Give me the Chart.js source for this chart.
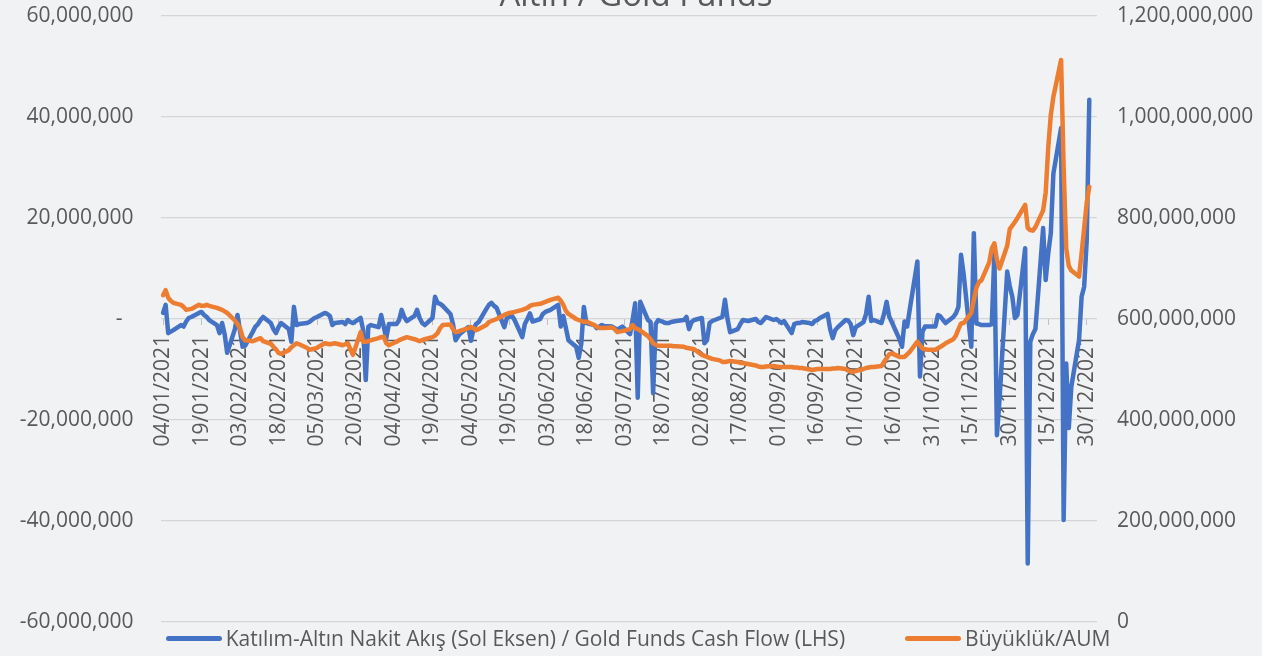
<!DOCTYPE html>
<html lang="tr">
<head>
<meta charset="utf-8">
<title>Altın / Gold Funds</title>
<script src="https://cdn.jsdelivr.net/npm/chart.js@4.4.1/dist/chart.umd.min.js"></script>
<style>
  html, body {
    margin: 0;
    padding: 0;
    background: #f1f2f4;
    overflow: hidden;
  }
  #chartContainer {
    position: relative;
    width: 1262px;
    height: 656px;
  }
  #chartCanvas {
    position: absolute;
    left: 0;
    top: 0;
  }
  #customLegend {
    position: absolute;
    left: 0;
    top: 625px;
    width: 1262px;
    padding-left: 14px;
    box-sizing: border-box;
    display: flex;
    justify-content: center;
    gap: 60px;
    font-family: "Open Sans", sans-serif;
    font-size: 21px;
    line-height: 26px;
    color: #595959;
  }
  .legend-item {
    display: flex;
    align-items: center;
    white-space: nowrap;
  }
  .legend-line {
    width: 56px;
    height: 5px;
    border-radius: 3px;
    margin-right: 4px;
  }
</style>
</head>
<body>
<div id="chartContainer">
  <canvas id="chartCanvas" width="1262" height="656"></canvas>
  <div id="customLegend"></div>
</div>
<script>
const chartTitle = 'Altın / Gold Funds';
const cashLabel = 'Katılım-Altın Nakit Akış (Sol Eksen) / Gold Funds Cash Flow (LHS)';
const aumLabel = 'Büyüklük/AUM';

// date axis: every calendar day from 03/01/2021 to 03/01/2022, a label every 15 days from 04/01/2021
const axisStart = [2021, 0, 3];
const axisDayCount = 366;
const tickEvery = 15;
const firstTickIndex = 1;

// left axis (TL), right axis (TL)
const leftTicks = { min: -60000000, max: 60000000, step: 20000000 };
const rightTicks = { min: 0, max: 1200000000, step: 200000000 };

// Gold funds cash flow, million TL, one value per weekday (Mon..Fri) from 04/01/2021
const cashFlow = [
  1.2, 2.8, -2.8, -2.5, -2.2,      // 04/01
  -1.2, -1.5, -0.5, 0.2, 0.4,      // 11/01
  1.2, 1.4, 0.8, 0.4, -0.2,        // 18/01
  -1.2, -2.8, -0.8, -3.0, -6.7,    // 25/01
  -2.0, 0.8, -2.4, -5.5, -5.3,     // 01/02
  -2.5, -1.5, -1.0, -0.2, 0.4,     // 08/02
  -0.8, -2.0, -2.8, -1.6, -0.8,    // 15/02
  -2.0, -4.5, 2.4, -1.2, -1.0,     // 22/02
  -0.8, -0.6, -0.2, 0.2, 0.4,      // 01/03
  1.2, 1.0, 0.6, -1.2, -0.8,       // 08/03
  -0.6, -1.0, -0.2, -0.6, -0.8,    // 15/03
  0.2, -2.2, -12.1, -1.5, -1.2,    // 22/03
  -1.6, 0.8, -1.5, -3.8, -1.0,     // 29/03
  -1.0, -0.2, 1.8, 0.4, -0.4,      // 05/04
  0.6, 1.8, 0.2, -0.8, -1.2,       // 12/04
  0.2, 4.4, 3.2, 3.0, 2.6,         // 19/04
  1.0, -1.0, -4.2, -3.4, -2.8,     // 26/04
  -1.6, -4.3, -2.0, -1.0, -0.6,    // 03/05
  2.0, 2.8, 3.2, 2.6, 2.2,         // 10/05
  -1.6, 0.2, 0.4, 0.6, -0.2,       // 17/05
  -3.6, -1.0, 0.0, 1.1, -0.5,      // 24/05
  0.0, 1.0, 1.4, 1.6, 1.8,         // 31/05
  2.8, -1.5, 0.6, -1.8, -4.2,      // 07/06
  -5.5, -7.7, -4.9, 2.4, -0.8,     // 14/06
  -1.2, -1.8, -1.5, -1.2, -1.4,    // 21/06
  -1.5, -1.8, -2.2, -1.8, -1.5,    // 28/06
  -3.0, -0.2, 3.1, -15.6, 3.4,     // 05/07
  -0.2, -0.6, -14.7, -1.0, -0.2,   // 12/07
  -0.8, -0.8, -0.6, -0.5, -0.4,    // 19/07
  -0.2, 0.4, -2.0, -0.6, -0.2,     // 26/07
  0.2, -4.8, -4.2, -0.8, -0.4,     // 02/08
  0.2, 0.4, 3.8, 0.0, -2.6,        // 09/08
  -2.0, -1.0, -0.2, -0.3, -0.4,    // 16/08
  0.0, -0.6, -0.8, -0.2, 0.4,      // 23/08
  -0.2, 0.0, -0.4, -0.8, -0.4,     // 30/08
  -2.8, -1.0, -0.8, -0.8, -0.6,    // 06/09
  -0.8, -1.0, -0.4, -0.2, 0.2,     // 13/09
  1.0, -2.0, -3.8, -2.2, -1.6,     // 20/09
  -0.2, -0.3, -1.0, -3.2, -1.6,    // 27/09
  -0.6, 1.0, 4.4, -0.4, -0.2,      // 04/10
  -0.8, 1.0, 3.4, 0.5, -0.6,       // 11/10
  -4.0, -5.5, -0.5, -1.5, 1.8,     // 18/10
  11.4, -11.4, -2.5, -1.5, -1.5,   // 25/10
  -1.5, 0.8, 0.5, -0.2, -0.8,      // 01/11
  0.4, 1.1, 2.4, 12.7, 9.0,        // 08/11
  -5.5, 17.0, -0.9, -1.0, -1.2,    // 15/11
  -1.2, -1.0, 13.0, -23.0, -16.0,  // 22/11
  9.4, 6.5, 4.4, 0.2, 0.8,         // 29/11
  14.0, -48.4, -4.5, -3.0, -2.0,   // 06/12
  18.0, 7.7, 13.0, 17.0, 28.8,     // 13/12
  37.8, -39.8, -8.8, -21.6, -13.4, // 20/12
  -4.2, 4.4, 6.4, 15.6, 43.4       // 27/12
];

// Gold funds AUM, million TL, same weekdays
const aum = [
  647, 657, 642, 636, 632,
  628, 624, 618, 619, 620,
  628, 626, 626, 628, 626,
  622, 620, 618, 615, 612,
  597, 590, 582, 564, 558,
  556, 558, 560, 562, 556,
  551, 545, 540, 533, 531,
  538, 544, 548, 552, 550,
  543, 539, 540, 541, 543,
  552, 551, 550, 551, 552,
  548, 550, 552, 540, 529,
  574, 555, 555, 556, 558,
  562, 564, 565, 552, 548,
  555, 558, 560, 562, 564,
  560, 558, 556, 558, 560,
  564, 567, 572, 582, 588,
  589, 580, 574, 575, 577,
  582, 584, 582, 578, 580,
  588, 594, 596, 598, 600,
  608, 610, 612, 613, 614,
  618, 620, 622, 626, 628,
  630, 632, 634, 636, 638,
  642, 636, 628, 616, 610,
  600, 598, 596, 594, 595,
  588, 585, 582, 582, 582,
  583, 580, 574, 575, 576,
  580, 588, 582, 580, 577,
  566, 560, 552, 549, 547,
  547, 547, 547, 546, 546,
  545, 543, 542, 541, 540,
  529, 527, 525, 523, 521,
  518, 515, 515, 516, 517,
  515, 513, 513, 512, 511,
  508, 506, 505, 505, 506,
  507, 506, 505, 505, 505,
  505, 504, 504, 503, 503,
  500, 499, 500, 501, 501,
  501, 501, 502, 502, 503,
  501, 498, 496, 495, 497,
  501, 503, 504, 505, 505,
  507, 515, 522, 530, 532,
  525, 525, 525, 530, 535,
  555, 548, 542, 540, 539,
  539, 542, 545, 548, 552,
  560, 567, 580, 591, 592,
  612, 638, 662, 673, 677,
  712, 740, 750, 717, 700,
  745, 778, 785, 792, 800,
  826, 780, 776, 775, 782,
  815, 850, 940, 1004, 1040,
  1113, 900, 740, 705, 696,
  684, 730, 780, 830, 862
];

const blue = '#4472C4';
const orange = '#ED7D31';
const textGray = '#595959';
const fontFamily = '"Open Sans", sans-serif';

// Build day labels and put weekday values on their days
const pad2 = n => String(n).padStart(2, '0');
const dayLabels = [];
const cashData = [];
const aumData = [];
let k = 0;
for (let i = 0; i < axisDayCount; i++) {
  const dt = new Date(Date.UTC(axisStart[0], axisStart[1], axisStart[2] + i));
  dayLabels.push(pad2(dt.getUTCDate()) + '/' + pad2(dt.getUTCMonth() + 1) + '/' + dt.getUTCFullYear());
  const wd = dt.getUTCDay();
  if (wd >= 1 && wd <= 5 && k < cashFlow.length) {
    cashData.push(cashFlow[k] * 1e6);
    aumData.push(aum[k] * 1e6);
    k++;
  } else {
    cashData.push(null);
    aumData.push(null);
  }
}

// Title sits above the canvas top, only its lower part shows
const topTitle = {
  id: 'topTitle',
  beforeDraw(chart) {
    const ctx = chart.ctx;
    ctx.save();
    ctx.font = '33px ' + fontFamily;
    ctx.fillStyle = textGray;
    ctx.textAlign = 'center';
    ctx.textBaseline = 'alphabetic';
    ctx.fillText(chartTitle, 636, 6);
    ctx.restore();
  }
};

const ctx = document.getElementById('chartCanvas').getContext('2d');

const currentChart = new Chart(ctx, {
  type: 'line',
  data: {
    labels: dayLabels,
    datasets: [
      {
        label: cashLabel,
        data: cashData,
        yAxisID: 'y',
        borderColor: blue,
        backgroundColor: blue,
        borderWidth: 4.5,
        borderJoinStyle: 'round',
        borderCapStyle: 'round',
        pointRadius: 0,
        tension: 0,
        spanGaps: true,
        order: 1
      },
      {
        label: aumLabel,
        data: aumData,
        yAxisID: 'y1',
        borderColor: orange,
        backgroundColor: orange,
        borderWidth: 4.5,
        borderJoinStyle: 'round',
        borderCapStyle: 'round',
        pointRadius: 0,
        tension: 0,
        spanGaps: true,
        order: 0
      }
    ]
  },
  options: {
    responsive: false,
    animation: false,
    devicePixelRatio: 1,
    layout: {
      padding: { top: 16, bottom: 34, left: 0, right: 0 }
    },
    plugins: {
      legend: { display: false },
      title: { display: false },
      tooltip: { enabled: false }
    },
    scales: {
      x: {
        type: 'category',
        position: { y: 0 },
        offset: false,
        afterBuildTicks: (scale) => {
          scale.ticks = scale.ticks.filter(t => (t.value - firstTickIndex) % tickEvery === 0 && t.value >= firstTickIndex);
        },
        grid: {
          drawOnChartArea: false,
          drawTicks: true,
          tickLength: 6,
          color: '#bfbfbf',
          lineWidth: 1
        },
        border: { display: false },
        ticks: {
          autoSkip: false,
          minRotation: 90,
          maxRotation: 90,
          padding: 10,
          color: textGray,
          font: { family: fontFamily, size: 21 },
          callback: function (value) {
            return this.getLabelForValue(value);
          }
        }
      },
      y: {
        position: 'left',
        min: leftTicks.min,
        max: leftTicks.max,
        afterFit: (scale) => { scale.width = 160.5; },
        ticks: {
          stepSize: leftTicks.step,
          padding: 0,
          color: textGray,
          font: { family: fontFamily, size: 21 },
          callback: (value) => value === 0 ? '-  ' : value.toLocaleString('en-US')
        },
        grid: {
          color: '#d5d5d5',
          lineWidth: 1.3,
          drawTicks: true,
          tickLength: 27,
          tickColor: 'rgba(0,0,0,0)'
        },
        border: { display: false }
      },
      y1: {
        position: 'right',
        min: rightTicks.min,
        max: rightTicks.max,
        afterFit: (scale) => { scale.width = 165; },
        ticks: {
          stepSize: rightTicks.step,
          padding: 0,
          color: textGray,
          font: { family: fontFamily, size: 21 },
          callback: (value) => value.toLocaleString('en-US')
        },
        grid: {
          drawOnChartArea: false,
          drawTicks: true,
          tickLength: 20,
          tickColor: 'rgba(0,0,0,0)'
        },
        border: { display: false }
      }
    }
  },
  plugins: [topTitle]
});

// Custom legend with line markers
const legendContainer = document.getElementById('customLegend');
legendContainer.innerHTML = '';
currentChart.data.datasets.forEach(ds => {
  const item = document.createElement('div');
  item.className = 'legend-item';
  const line = document.createElement('span');
  line.className = 'legend-line';
  line.style.backgroundColor = ds.borderColor;
  const text = document.createElement('span');
  text.textContent = ds.label;
  item.appendChild(line);
  item.appendChild(text);
  legendContainer.appendChild(item);
});
</script>
</body>
</html>
